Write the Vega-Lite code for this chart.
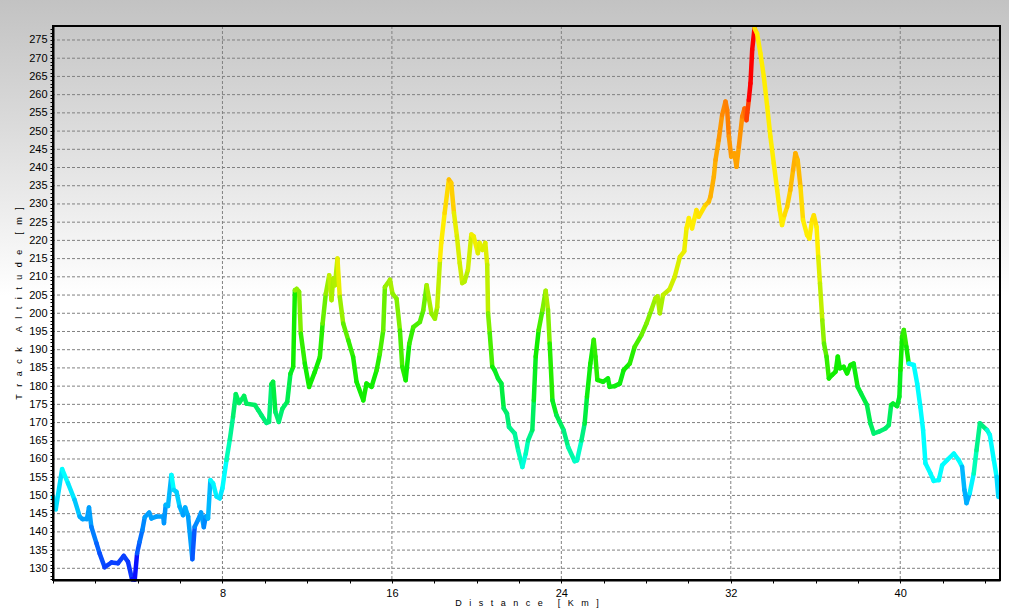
{
  "$schema": "https://vega.github.io/schema/vega-lite/v6.json",
  "width": 947,
  "height": 554,
  "autosize": "none",
  "padding": {"left": 53, "top": 26, "right": 9, "bottom": 36},
  "background": "#ffffff",
  "config": {
    "view": {"stroke": null},
    "axis": {"grid": false, "domain": true, "domainColor": "#000000", "domainWidth": 2, "tickColor": "#000000", "tickSize": 3, "tickWidth": 1, "labelFont": "Liberation Sans", "labelFontSize": 11, "labelColor": "#000000", "labelOverlap": false, "labelFlush": false, "titleFont": "Liberation Sans", "titleFontSize": 9, "titleFontWeight": "normal", "titleColor": "#000000"}
  },
  "layer": [
    {
      "data": {"values": [{"k": 1}]},
      "mark": {"type": "rect", "clip": false, "color": {"gradient": "linear", "x1": 0, "y1": 0, "x2": 0, "y2": 1, "stops": [{"offset": 0, "color": "#c2c2c2"}, {"offset": 0.2, "color": "#dadada"}, {"offset": 0.48, "color": "#ffffff"}, {"offset": 1, "color": "#ffffff"}]}},
      "encoding": {
        "x": {"datum": -2.6, "type": "quantitative", "scale": {"domain": [0, 44.71], "nice": false, "zero": false}},
        "x2": {"datum": 45.3},
        "y": {"datum": 116.3, "type": "quantitative", "scale": {"domain": [126.79, 278.84], "nice": false, "zero": false}},
        "y2": {"datum": 286.6}
      }
    },
    {
      "data": {"values": [{"v":130},{"v":135},{"v":140},{"v":145},{"v":150},{"v":155},{"v":160},{"v":165},{"v":170},{"v":175},{"v":180},{"v":185},{"v":190},{"v":195},{"v":200},{"v":205},{"v":210},{"v":215},{"v":220},{"v":225},{"v":230},{"v":235},{"v":240},{"v":245},{"v":250},{"v":255},{"v":260},{"v":265},{"v":270},{"v":275}]},
      "mark": {"type": "rule", "color": "#808080", "strokeWidth": 1, "strokeDash": [3, 2]},
      "encoding": {"y": {"field": "v", "type": "quantitative"}}
    },
    {
      "data": {"values": [{"v":8},{"v":16},{"v":24},{"v":32},{"v":40}]},
      "mark": {"type": "rule", "color": "#808080", "strokeWidth": 1, "strokeDash": [3, 2]},
      "encoding": {"x": {"field": "v", "type": "quantitative"}}
    },
    {
      "data": {"values": [
        {"d":0,"a":149.7,"h":4.5},{"d":0.13,"a":146.2,"h":4.3},{"d":0.43,"a":157.2,"h":5},{"d":0.71,"a":153.3,"h":4.5},{"d":1.02,"a":148.8,"h":3.8},{"d":1.26,"a":144.2,"h":3.2},{"d":1.39,"a":143.5,"h":3},{"d":1.6,"a":143.5,"h":3},{"d":1.7,"a":146.7,"h":3},{"d":1.81,"a":141.4,"h":2.3},{"d":2.05,"a":136.9,"h":1.7},{"d":2.2,"a":134.1,"h":1.3},{"d":2.44,"a":130.3,"h":1},{"d":2.76,"a":131.6,"h":1},{"d":3.07,"a":131.4,"h":1},{"d":3.34,"a":133.4,"h":1},{"d":3.54,"a":131.8,"h":0.8},{"d":3.73,"a":127,"h":0},{"d":3.86,"a":126.9,"h":0},{"d":3.97,"a":134.1,"h":1.5},{"d":4.09,"a":137.3,"h":2},{"d":4.22,"a":140.5,"h":2.5},{"d":4.33,"a":144,"h":3},{"d":4.54,"a":145.3,"h":3},{"d":4.65,"a":143.7,"h":3},{"d":4.88,"a":144.2,"h":3},{"d":5.2,"a":144.2,"h":3},{"d":5.24,"a":142.4,"h":2.8},{"d":5.32,"a":147.4,"h":3.5},{"d":5.43,"a":147.1,"h":3.5},{"d":5.59,"a":155.6,"h":5},{"d":5.7,"a":151.5,"h":4.2},{"d":5.83,"a":151,"h":4},{"d":5.98,"a":146.9,"h":3.4},{"d":6.14,"a":144.6,"h":3},{"d":6.24,"a":146.7,"h":3.3},{"d":6.38,"a":144.2,"h":3},{"d":6.58,"a":132.5,"h":1.5},{"d":6.69,"a":141.4,"h":2.5},{"d":6.85,"a":143.3,"h":2.8},{"d":6.99,"a":145.3,"h":3},{"d":7.12,"a":141.3,"h":2.5},{"d":7.21,"a":144.2,"h":3},{"d":7.32,"a":143.7,"h":3.5},{"d":7.43,"a":154.2,"h":5},{"d":7.56,"a":153.3,"h":4.8},{"d":7.72,"a":149.7,"h":4.5},{"d":7.87,"a":149.2,"h":4.5},{"d":8.0,"a":152,"h":5},{"d":8.19,"a":159.7,"h":6},
        {"d":8.35,"a":165.4,"h":6.7},{"d":8.5,"a":171.6,"h":7.3},{"d":8.63,"a":177.8,"h":7.6},{"d":8.79,"a":175.4,"h":7.5},{"d":9.02,"a":177.3,"h":7.6},{"d":9.13,"a":175.2,"h":7.5},{"d":9.53,"a":174.8,"h":7.4},{"d":9.69,"a":173.4,"h":7.3},{"d":9.84,"a":172,"h":7.2},{"d":10.08,"a":169.9,"h":7},{"d":10.2,"a":170.2,"h":7.2},{"d":10.31,"a":180.5,"h":8},{"d":10.39,"a":181.2,"h":8},{"d":10.5,"a":172.9,"h":7.3},{"d":10.66,"a":170.2,"h":7.2},{"d":10.83,"a":173.8,"h":7.5},{"d":11.06,"a":175.7,"h":7.8},{"d":11.21,"a":183.4,"h":8.5},{"d":11.34,"a":185.3,"h":9},{"d":11.42,"a":206.3,"h":10.2},{"d":11.5,"a":206.7,"h":10.2},{"d":11.62,"a":205.9,"h":10},{"d":11.7,"a":194.4,"h":9.3},{"d":11.89,"a":186.2,"h":9},{"d":12.09,"a":179.8,"h":9},{"d":12.36,"a":183.9,"h":9},{"d":12.6,"a":188,"h":9.2},{"d":12.73,"a":197.2,"h":9.8},{"d":12.88,"a":205.4,"h":10.3},{"d":13.04,"a":210.4,"h":10.8},{"d":13.15,"a":203.6,"h":10.5},{"d":13.23,"a":209.5,"h":10.6},{"d":13.31,"a":207.7,"h":10.6},{"d":13.43,"a":215,"h":11.5},{"d":13.54,"a":204.5,"h":10.3},{"d":13.7,"a":197.2,"h":9.7},{"d":13.94,"a":192.6,"h":9.3},{"d":14.17,"a":188,"h":9.1},{"d":14.33,"a":181.2,"h":9},{"d":14.65,"a":176.1,"h":9},{"d":14.8,"a":180.7,"h":9},{"d":15.04,"a":179.8,"h":9},{"d":15.28,"a":184.4,"h":9.2},{"d":15.43,"a":188.9,"h":9.5},{"d":15.59,"a":195.3,"h":9.8},{"d":15.67,"a":207.2,"h":10.3},{"d":15.91,"a":209.2,"h":10.5},{"d":16.03,"a":205.4,"h":10.2},{"d":16.22,"a":204,"h":10},{"d":16.38,"a":195.3,"h":9.5},{"d":16.49,"a":185.3,"h":9.2},{"d":16.65,"a":181.6,"h":9},{"d":16.82,"a":191.6,"h":9.3},{"d":17.01,"a":196.2,"h":9.5},{"d":17.32,"a":197.6,"h":9.6},{"d":17.48,"a":200.8,"h":9.8},{"d":17.64,"a":207.7,"h":10.5},{"d":17.87,"a":199.9,"h":10.2},{"d":18.03,"a":198.5,"h":10.3},{"d":18.14,"a":201.7,"h":10.8},{"d":18.27,"a":214.6,"h":12},
        {"d":18.33,"a":219.3,"h":12},{"d":18.49,"a":227.5,"h":12.3},{"d":18.69,"a":236.7,"h":12.8},{"d":18.8,"a":235.8,"h":12.5},{"d":18.93,"a":227.5,"h":11.5},{"d":19.07,"a":221.1,"h":11.2},{"d":19.2,"a":213.8,"h":11},{"d":19.32,"a":208.3,"h":10.7},{"d":19.43,"a":208.7,"h":10.7},{"d":19.59,"a":211.9,"h":11},{"d":19.75,"a":221.6,"h":11.8},{"d":19.86,"a":221.1,"h":11.7},{"d":20.06,"a":216.5,"h":11.3},{"d":20.14,"a":219.3,"h":11.5},{"d":20.27,"a":217.4,"h":11.2},{"d":20.41,"a":219.3,"h":11.3},{"d":20.5,"a":213.3,"h":10.8},{"d":20.54,"a":200,"h":10},{"d":20.62,"a":194.5,"h":9.5},{"d":20.74,"a":185.3,"h":9},{"d":20.85,"a":184.4,"h":8.5},{"d":21.01,"a":182.1,"h":8.2},{"d":21.17,"a":180.7,"h":8},{"d":21.28,"a":173.9,"h":7.5},{"d":21.43,"a":172.5,"h":7.2},{"d":21.53,"a":168.8,"h":6.8},{"d":21.8,"a":167,"h":6.5},{"d":21.96,"a":162.4,"h":6},{"d":22.16,"a":157.8,"h":5.5},{"d":22.32,"a":161.5,"h":6},{"d":22.43,"a":165.1,"h":6.8},{"d":22.63,"a":167.9,"h":7.5},{"d":22.7,"a":176.1,"h":8.5},{"d":22.79,"a":188.1,"h":9},{"d":22.93,"a":195.4,"h":9.5},{"d":23.11,"a":200.9,"h":10},{"d":23.26,"a":206.2,"h":10.5},{"d":23.37,"a":200.9,"h":10},{"d":23.45,"a":191.7,"h":9.2},{"d":23.58,"a":176.1,"h":8.5},{"d":23.77,"a":172,"h":7.8},{"d":23.92,"a":170.2,"h":7.5},{"d":24.11,"a":167.9,"h":7},{"d":24.32,"a":163.3,"h":6.3},{"d":24.63,"a":159.4,"h":5.7},{"d":24.74,"a":159.6,"h":5.8},{"d":24.95,"a":165.1,"h":7},{"d":25.1,"a":169.7,"h":8},{"d":25.21,"a":177.1,"h":8.8},{"d":25.37,"a":186.2,"h":9},{"d":25.53,"a":192.7,"h":9.3},{"d":25.61,"a":188.1,"h":9.2},{"d":25.7,"a":181.7,"h":9},{"d":25.97,"a":181.2,"h":8.8},{"d":26.2,"a":182.1,"h":8.8},{"d":26.28,"a":179.8,"h":8.8},{"d":26.52,"a":180,"h":8.8},{"d":26.76,"a":180.7,"h":8.8},{"d":26.94,"a":184.4,"h":9},{"d":27.23,"a":186.2,"h":9.2},{"d":27.46,"a":190.8,"h":9.5},{"d":27.78,"a":194,"h":9.8},{"d":28.02,"a":197.2,"h":10},{"d":28.25,"a":200.9,"h":10.3},{"d":28.44,"a":204.1,"h":10.6},{"d":28.54,"a":204.6,"h":10.6},{"d":28.65,"a":200,"h":10.5},
        {"d":28.8,"a":205,"h":10.8},{"d":29.1,"a":206.5,"h":11},{"d":29.35,"a":210,"h":11.2},{"d":29.6,"a":215.5,"h":11.5},{"d":29.8,"a":217,"h":11.6},{"d":29.91,"a":223.3,"h":12},{"d":30.02,"a":226.1,"h":12},{"d":30.17,"a":223.3,"h":12},{"d":30.38,"a":228.3,"h":12.2},{"d":30.49,"a":226.5,"h":12.2},{"d":30.8,"a":229.7,"h":12.5},{"d":30.96,"a":230.6,"h":12.8},{"d":31.04,"a":232,"h":13},{"d":31.2,"a":237.5,"h":13},{"d":31.28,"a":242.1,"h":13.2},{"d":31.43,"a":247.6,"h":13.5},{"d":31.59,"a":254.4,"h":13.8},{"d":31.75,"a":258.1,"h":14},{"d":31.83,"a":255.8,"h":14},{"d":31.91,"a":248.5,"h":13.5},{"d":32.02,"a":243,"h":13.3},{"d":32.17,"a":243.9,"h":13.3},{"d":32.27,"a":240.2,"h":13.3},{"d":32.38,"a":245.7,"h":13.6},{"d":32.54,"a":254,"h":14},{"d":32.65,"a":256.2,"h":14.2},{"d":32.74,"a":253,"h":14.5},{"d":32.85,"a":258.5,"h":15},{"d":32.93,"a":263.1,"h":15},{"d":33.01,"a":272.3,"h":15},{"d":33.12,"a":278.2,"h":12.2},{"d":33.24,"a":276.8,"h":12},{"d":33.4,"a":271.3,"h":12},{"d":33.56,"a":264.9,"h":12},{"d":33.72,"a":256.7,"h":12},{"d":33.87,"a":248.5,"h":12},{"d":34.03,"a":241.1,"h":12},{"d":34.19,"a":233.8,"h":12},{"d":34.31,"a":228.3,"h":12},{"d":34.42,"a":224.2,"h":12},{"d":34.53,"a":226.9,"h":12.3},{"d":34.66,"a":229.2,"h":12.5},{"d":34.81,"a":233.8,"h":12.8},{"d":34.94,"a":239.3,"h":13},{"d":35.05,"a":243.9,"h":13},{"d":35.16,"a":242,"h":12.8},{"d":35.29,"a":234.7,"h":12.3},{"d":35.41,"a":225.6,"h":12},{"d":35.6,"a":221.5,"h":12},{"d":35.71,"a":220.5,"h":12},{"d":35.84,"a":225.6,"h":12.2},{"d":35.92,"a":226.9,"h":12.2},{"d":36.05,"a":223.7,"h":12},{"d":36.13,"a":215.5,"h":11.3},{"d":36.21,"a":208.2,"h":10.8},{"d":36.32,"a":198.1,"h":10.2},{"d":36.4,"a":191.7,"h":9.7},{"d":36.52,"a":188.1,"h":9.3},{"d":36.63,"a":182.1,"h":9},{"d":36.79,"a":183.1,"h":9},{"d":36.95,"a":184,"h":9},{"d":37.05,"a":188.1,"h":9},{"d":37.15,"a":184.9,"h":9},{"d":37.33,"a":185.3,"h":9},{"d":37.49,"a":183.5,"h":9},{"d":37.65,"a":185.8,"h":9},{"d":37.8,"a":186.2,"h":8.8},{"d":37.99,"a":179.8,"h":8.3},{"d":38.15,"a":178,"h":8},{"d":38.43,"a":174.8,"h":7.8},{"d":38.59,"a":169.8,"h":7.5},{"d":38.75,"a":167,"h":7.2},{"d":38.99,"a":167.5,"h":7.2},{"d":39.3,"a":168.4,"h":7.3},{"d":39.46,"a":169.3,"h":7.5},{"d":39.57,"a":174.8,"h":8.2},{"d":39.66,"a":175.2,"h":8.3},{"d":39.85,"a":174.5,"h":8.3},{"d":39.96,"a":177.1,"h":8.5},{"d":40.01,"a":184.4,"h":9},{"d":40.09,"a":193.6,"h":9.2},{"d":40.17,"a":195.4,"h":9.3},{"d":40.29,"a":190.8,"h":9},{"d":40.4,"a":186.2,"h":5},{"d":40.64,"a":185.8,"h":5},{"d":40.8,"a":180.7,"h":5},{"d":40.95,"a":174.3,"h":5},{"d":41.08,"a":167.9,"h":5},{"d":41.19,"a":158.8,"h":5},{"d":41.43,"a":156,"h":5},{"d":41.58,"a":154,"h":5},{"d":41.82,"a":154.2,"h":5},{"d":41.98,"a":158.3,"h":5},{"d":42.21,"a":159.7,"h":5},{"d":42.53,"a":161.5,"h":5},{"d":42.76,"a":159.7,"h":5},{"d":42.92,"a":157.9,"h":3.5},{"d":43.03,"a":151.5,"h":3.3},{"d":43.13,"a":147.9,"h":3.3},{"d":43.28,"a":150.6,"h":4.8},{"d":43.47,"a":156,"h":6},{"d":43.6,"a":162.4,"h":6.8},{"d":43.76,"a":169.8,"h":7},{"d":44.1,"a":167.9,"h":5.5},{"d":44.23,"a":166.6,"h":5},{"d":44.42,"a":159.7,"h":5},{"d":44.55,"a":155.1,"h":4.2},{"d":44.63,"a":149.6,"h":4}
      ]},
      "transform": [
        {"window": [{"op": "lead", "field": "d", "as": "d2"}, {"op": "lead", "field": "a", "as": "a2"}], "sort": [{"field": "d"}]},
        {"filter": "datum.d2 != null"}
      ],
      "mark": {"type": "rule", "strokeWidth": 4.5, "strokeCap": "round"},
      "encoding": {
        "x": {"field": "d", "type": "quantitative", "scale": {"domain": [0, 44.71], "nice": false, "zero": false},
          "axis": {"zindex": 1, "values": [0,2,4,6,8,10,12,14,16,18,20,22,24,26,28,30,32,34,36,38,40,42,44], "labelExpr": "datum.value % 8 === 0 && datum.value > 0 ? datum.label : ''", "labelPadding": 4,
            "title": "D\u00a0\u00a0\u00a0i\u00a0\u00a0\u00a0s\u00a0\u00a0\u00a0t\u00a0\u00a0\u00a0a\u00a0\u00a0\u00a0n\u00a0\u00a0\u00a0c\u00a0\u00a0\u00a0e\u00a0\u00a0\u00a0\u00a0\u00a0\u00a0[\u00a0\u00a0\u00a0K\u00a0\u00a0\u00a0m\u00a0\u00a0\u00a0]", "titlePadding": 0}},
        "x2": {"field": "d2"},
        "y": {"field": "a", "type": "quantitative", "scale": {"domain": [126.79, 278.84], "nice": false, "zero": false},
          "axis": {"zindex": 1, "tickCount": 152, "labelExpr": "datum.value % 5 === 0 ? datum.label : ''", "labelPadding": 3,
            "title": "T\u00a0\u00a0\u00a0r\u00a0\u00a0\u00a0a\u00a0\u00a0\u00a0c\u00a0\u00a0\u00a0k\u00a0\u00a0\u00a0\u00a0\u00a0\u00a0A\u00a0\u00a0\u00a0l\u00a0\u00a0\u00a0t\u00a0\u00a0\u00a0i\u00a0\u00a0\u00a0t\u00a0\u00a0\u00a0u\u00a0\u00a0\u00a0d\u00a0\u00a0\u00a0e\u00a0\u00a0\u00a0\u00a0\u00a0\u00a0[\u00a0\u00a0\u00a0m\u00a0\u00a0\u00a0]", "titlePadding": 5}},
        "y2": {"field": "a2"},
        "color": {"field": "h", "type": "quantitative", "legend": null,
          "scale": {"domain": [0,1,2,3,4,5,6,7,8,9,10,11,12,13,14,15], "range": ["#0a10ff","#0a40ff","#0070ff","#00a0ff","#00d0ff","#00ffff","#00ffb8","#00f080","#00ee40","#10ee00","#80f000","#d0f000","#ffee00","#ffb000","#ff8000","#ff0000"], "interpolate": "rgb"}}
      }
    },
    {
      "data": {"values": [{"k": 1}]},
      "mark": {"type": "rect", "filled": false, "stroke": "#000000", "strokeWidth": 2, "clip": false},
      "encoding": {
        "x": {"datum": 0, "type": "quantitative"},
        "x2": {"datum": 44.71},
        "y": {"datum": 126.79, "type": "quantitative"},
        "y2": {"datum": 278.84}
      }
    }
  ]
}
